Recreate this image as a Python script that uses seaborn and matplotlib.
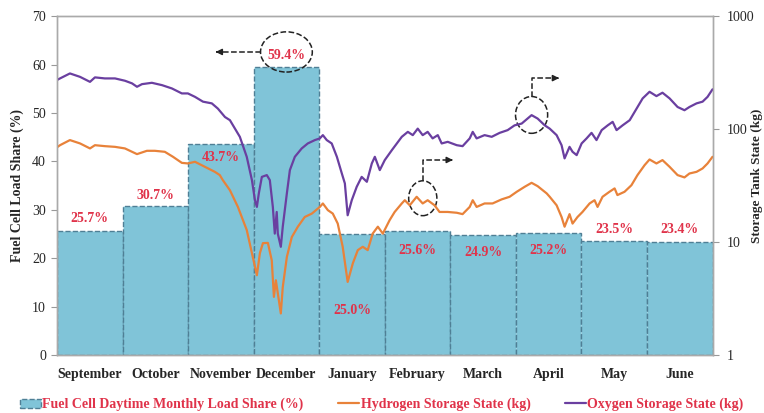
import numpy as np
import pandas as pd
import matplotlib
matplotlib.use("Agg")
import matplotlib.pyplot as plt
from matplotlib.patches import Ellipse, Patch
from matplotlib.lines import Line2D
from matplotlib.ticker import NullLocator, FixedLocator
import seaborn as sns

# monthly fuel cell load share (left axis)
months = ["September", "October", "November", "December", "January",
          "February", "March", "April", "May", "June"]
load_share = [25.7, 30.7, 43.7, 59.4, 25.0, 25.6, 24.9, 25.2, 23.5, 23.4]
period_days = 304

# oxygen tank state (kg), day of period
o2_day = [0.0, 1.4, 6.0, 10.7, 15.3, 17.6, 22.2, 26.9, 31.5, 34.8, 37.1, 39.4, 44.0, 48.7, 53.3,
          57.9, 60.7, 64.0, 67.7, 71.8, 74.6, 77.9, 80.2, 84.8, 88.0, 90.4, 91.8, 92.7, 93.6,
          95.0, 97.3, 98.7, 100.1, 101.0, 101.9, 102.4, 103.8, 104.7, 106.6, 108.0, 110.3,
          113.5, 116.3, 119.6, 121.9, 123.3, 125.1, 127.4, 129.8, 132.1, 133.5, 134.8, 136.7,
          139.0, 141.3, 143.7, 146.0, 147.4, 149.7, 152.0, 155.3, 159.9, 162.7, 165.0, 167.3,
          169.6, 171.9, 174.2, 176.6, 178.4, 181.2, 185.4, 188.1, 191.4, 192.8, 194.6, 198.3,
          201.6, 205.3, 209.0, 212.2, 215.5, 220.1, 222.9, 226.2, 228.5, 231.7, 234.0, 235.4,
          237.7, 239.1, 241.0, 243.3, 245.6, 247.9, 250.2, 252.6, 255.4, 257.7, 259.5, 262.3,
          265.6, 268.8, 271.6, 274.8, 278.0, 280.8, 284.1, 287.8, 291.0, 293.3, 296.6, 299.4,
          301.7, 304.0]
o2_kg = [272, 281, 311, 290, 262, 287, 281, 281, 268, 254, 237, 250, 257, 245, 229,
         207, 207, 193, 175, 169, 152, 128, 120, 85.5, 56.9, 35.4, 23.5, 20.5, 27.0,
         37.8, 39.2, 35.4, 20.5, 11.9, 18.5, 11.9, 9.1, 13.7, 27.0, 43.4, 56.9,
         67.5, 74.7, 80.0, 82.8, 88.5, 80.0, 74.7, 56.9, 40.5, 33.1, 17.3, 23.5,
         30.9, 37.8, 34.2, 49.7, 56.9, 43.4, 53.2, 65.2, 85.5, 94.6, 88.5, 101,
         88.5, 94.6, 82.8, 88.5, 74.7, 77.2, 72.1, 70.7, 82.8, 94.6, 82.8, 88.5,
         85.5, 92.7, 98.0, 108, 112, 133, 124, 108, 101, 88.5, 72.1, 55.1,
         69.7, 63.0, 58.9, 74.7, 82.8, 92.7, 80.0, 98.0, 108, 116, 98.0, 108,
         120, 152, 187, 214, 196, 210, 187, 157, 147, 157, 169, 175,
         193, 225]

# hydrogen tank state (kg), day of period
h2_day = [0.0, 1.4, 6.0, 10.7, 15.3, 17.6, 22.2, 26.9, 31.5, 37.1, 41.7, 45.4, 50.0, 53.8,
          57.9, 60.7, 64.0, 68.6, 73.2, 75.5, 76.9, 80.2, 83.9, 88.0, 90.4, 92.7, 94.1, 95.5,
          97.8, 99.6, 100.6, 101.5, 102.4, 103.8, 104.7, 106.6, 108.9, 111.7, 114.9, 118.2,
          121.9, 123.3, 125.6, 127.9, 130.2, 132.5, 134.8, 137.2, 139.5, 141.8, 144.1, 146.4,
          148.8, 151.1, 154.3, 156.6, 159.9, 161.3, 163.6, 166.8, 169.6, 171.9, 175.1, 177.4,
          181.2, 185.4, 188.1, 191.4, 192.8, 194.6, 198.3, 202.0, 206.2, 209.9, 213.2, 216.9,
          220.1, 222.9, 227.1, 228.5, 231.7, 234.0, 235.4, 237.7, 239.1, 241.4, 243.7, 247.0,
          249.3, 250.7, 253.0, 256.2, 258.6, 259.9, 263.2, 266.4, 269.2, 272.5, 274.8, 278.0,
          280.8, 284.1, 287.8, 291.0, 293.3, 296.6, 299.4, 301.7, 304.0]
h2_kg = [69, 72.1, 80.0, 74.7, 67.5, 72.1, 70.7, 69.7, 67.5, 60.1, 64.3, 64.3, 63.0, 56.9,
         50.3, 49.7, 51.4, 46.4, 41.9, 39.2, 35.4, 28.8, 20.5, 12.8, 8.0, 5.1, 8.0, 9.8,
         9.85, 6.9, 3.28, 4.6, 3.54, 2.34, 4.0, 7.4, 11.1, 13.7, 16.7, 17.9,
         20.5, 22.0, 19.2, 17.9, 14.6, 9.1, 4.45, 6.5, 8.5, 9.1, 8.5, 11.9,
         13.7, 11.9, 15.7, 18.5, 22.0, 23.5, 21.2, 25.2, 22.0, 23.5, 21.2, 18.5,
         18.5, 18.2, 17.7, 20.5, 23.5, 20.5, 22.0, 22.0, 23.9, 25.2, 27.9, 30.9,
         33.5, 31.3, 27.0, 25.2, 21.2, 16.7, 13.7, 17.7, 14.6, 16.7, 18.5, 22.0,
         23.5, 20.5, 25.2, 27.9, 29.9, 26.1, 27.9, 31.9, 39.2, 48.0, 53.9, 49.7,
         53.2, 46.4, 39.2, 37.4, 40.5, 41.9, 44.9, 49.7, 56.9]

red = "#e0334a"
bar_color = "#80c4d8"
h2_color = "#e8823a"
o2_color = "#6a3fa0"

sns.set_style("white")
plt.rcParams["font.family"] = ["Liberation Serif", "DejaVu Serif"]

fig = plt.figure(figsize=(7.64, 4.13), dpi=100)
ax = fig.add_axes([0.0746, 0.140, 0.858, 0.821])

df = pd.DataFrame({"month": months, "share": load_share})
sns.barplot(data=df, x="month", y="share", ax=ax, color=bar_color, saturation=1,
            width=1.0, edgecolor="#4f7f95", linestyle="--", linewidth=1.0)
ax.set_xlim(-0.5, 9.5)
ax.set_ylim(0, 70)
ax.set_yticks(range(0, 71, 10))
ax.set_xlabel("")
ax.set_ylabel("Fuel Cell Load Share (%)", fontsize=10, fontweight="bold", labelpad=6)
ax.tick_params(axis="x", which="major", length=0, pad=9, labelsize=10)
ax.set_xticks(range(10))
ax.set_xticklabels(months, fontweight="bold")
ax.xaxis.set_minor_locator(FixedLocator(np.arange(-0.5, 10, 1)))
ax.tick_params(axis="x", which="minor", length=5, color="#999999", direction="out")
ax.tick_params(axis="y", length=4, color="#999999", direction="out", labelsize=10, pad=4)
for s in ax.spines.values():
    s.set_color("#aaaaaa")
    s.set_linewidth(1.0)

# percentage labels, offset above or inside the bar
label_offsets = [2.6, 2.3, -2.8, 2.5, -15.7, -3.9, -3.6, -3.5, 2.5, 2.6]
for i, (v, off) in enumerate(zip(load_share, label_offsets)):
    ax.text(i, v + off, f"{v:.1f}%", ha="center", va="center", color=red,
            fontsize=10, fontweight="bold", zorder=5)

# storage tank states on log right axis
ax2 = ax.twinx()
h2_pos = np.array(h2_day) / period_days * len(months) - 0.5
o2_pos = np.array(o2_day) / period_days * len(months) - 0.5
sns.lineplot(x=h2_pos, y=h2_kg, ax=ax2, color=h2_color, linewidth=1.6, sort=False)
sns.lineplot(x=o2_pos, y=o2_kg, ax=ax2, color=o2_color, linewidth=1.6, sort=False)
ax2.set_yscale("log")
ax2.set_ylim(1, 1000)
ax2.set_xlim(-0.5, 9.5)
ax2.set_yticks([1, 10, 100, 1000])
ax2.set_yticklabels(["1", "10", "100", "1000"])
ax2.yaxis.set_minor_locator(NullLocator())
ax2.tick_params(axis="y", length=4, color="#999999", direction="out", labelsize=10, pad=6)
ax2.set_ylabel("Storage Tank State (kg)", fontsize=9.5, fontweight="bold")
ax2.yaxis.set_label_coords(1.058, 0.53)
for s in ax2.spines.values():
    s.set_color("#aaaaaa")
    s.set_linewidth(1.0)

# dashed callouts
dash = dict(color="#222222", linestyle="--", linewidth=1.1)
ax.add_patch(Ellipse((3.0, 62.6), 0.79, 8.3, fill=False, zorder=6, **dash))
ax.plot([2.61, 1.98], [62.6, 62.6], zorder=6, **dash)
ax.annotate("", xy=(1.92, 62.6), xytext=(2.0, 62.6), zorder=6,
            arrowprops=dict(arrowstyle="-|>", color="#222222", lw=1.1, mutation_scale=9))

ax.add_patch(Ellipse((5.08, 32.4), 0.43, 7.2, fill=False, zorder=6, **dash))
ax.plot([5.08, 5.08, 5.46], [35.9, 40.3, 40.3], zorder=6, **dash)
ax.annotate("", xy=(5.54, 40.3), xytext=(5.46, 40.3), zorder=6,
            arrowprops=dict(arrowstyle="-|>", color="#222222", lw=1.1, mutation_scale=9))

ax.add_patch(Ellipse((6.74, 49.6), 0.49, 7.6, fill=False, zorder=6, **dash))
ax.plot([6.74, 6.74, 7.08], [53.4, 57.2, 57.2], zorder=6, **dash)
ax.annotate("", xy=(7.16, 57.2), xytext=(7.08, 57.2), zorder=6,
            arrowprops=dict(arrowstyle="-|>", color="#222222", lw=1.1, mutation_scale=9))

handles = [Patch(facecolor=bar_color, edgecolor="#4f7f95", linestyle="--"),
           Line2D([], [], color=h2_color, linewidth=1.6),
           Line2D([], [], color=o2_color, linewidth=1.6)]
labels = ["Fuel Cell Daytime Monthly Load Share (%)",
          "Hydrogen Storage State (kg)", "Oxygen Storage State (kg)"]
leg = fig.legend(handles, labels, loc="center", bbox_to_anchor=(0.50, 0.02), ncol=3,
                 frameon=False, handlelength=1.5, handletextpad=0.1,
                 columnspacing=2.5, prop={"weight": "bold", "size": 10})
for t in leg.get_texts():
    t.set_color(red)

fig.savefig("out.png", dpi=100)
